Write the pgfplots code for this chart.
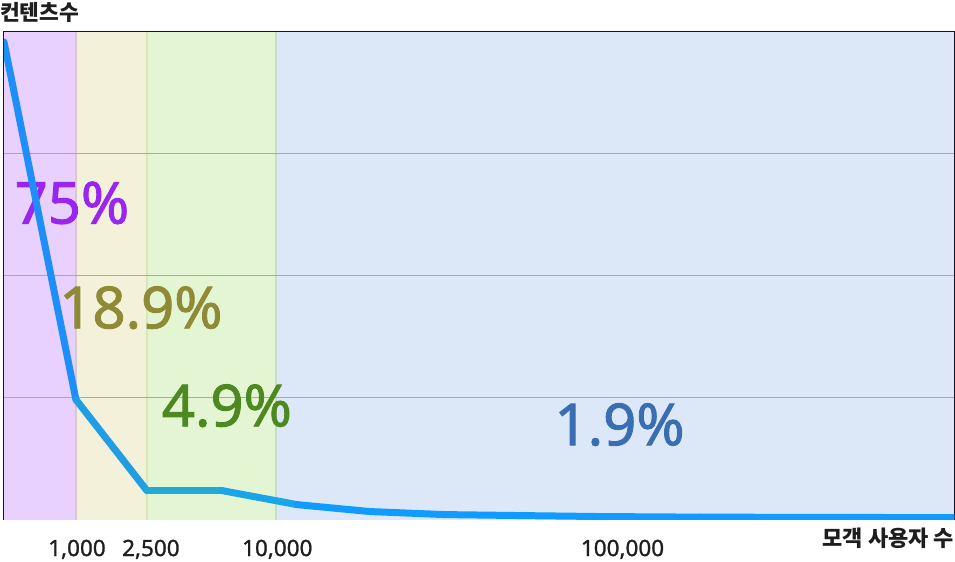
\documentclass[border=0pt]{standalone}
\usepackage{fontspec}
\setmainfont{Noto Sans}
\newfontfamily\med{Noto Sans}[FakeBold=1.5]
\newfontfamily\medt{Noto Sans}[FakeBold=1.2]
\newfontfamily\kr{Noto Sans CJK KR}
\usepackage{pgfplots}
\pgfplotsset{compat=1.18}
\definecolor{bandP}{HTML}{E8D0FF}
\definecolor{bandY}{HTML}{F3F1DA}
\definecolor{bandG}{HTML}{E4F5D4}
\definecolor{bandB}{HTML}{DCE8F8}
\definecolor{edgeP}{HTML}{DCC8CC}
\definecolor{edgeY}{HTML}{D6E8B4}
\definecolor{edgeG}{HTML}{C6E0C8}
\definecolor{axdark}{HTML}{16122A}
\definecolor{gridc}{HTML}{A8A8A8}
\definecolor{txtP}{HTML}{9A24F0}
\definecolor{txtY}{HTML}{8E8A35}
\definecolor{txtG}{HTML}{4E8820}
\definecolor{txtB}{HTML}{3A6EB2}
\definecolor{labc}{HTML}{1E1E1E}
\begin{document}
\begin{tikzpicture}
\begin{axis}[
  scale only axis, width=951pt, height=488pt,
  xmin=0, xmax=951, ymin=0, ymax=4,
  clip mode=individual,
  axis line style={draw=axdark, line width=1.5pt},
  xtick={73,147,273.5,619},
  xticklabels={{1,000},{2,500},{10,000},{100,000}},
  ytick={1,2,3}, yticklabels={},
  ymajorgrids, grid style={draw=gridc, line width=0.9pt},
  major tick length=0,
  xticklabel style={anchor=base, yshift=-36.5pt, font=\medt\fontsize{22.5}{24}\selectfont, text=labc},
  /pgf/number format/assume math mode=true,
  colormap={linecm}{rgb255(0)=(30,136,255); rgb255(72)=(30,148,242); rgb255(143)=(32,168,214); rgb255(218)=(32,172,212); rgb255(300)=(16,156,255); rgb255(951)=(16,156,255)},
  axis on top=false,
]
% bands
\addplot[fill=bandP, draw=none] coordinates {(0,0) (72,0) (72,4) (0,4)} -- cycle;
\addplot[fill=bandY, draw=none] coordinates {(72,0) (143,0) (143,4) (72,4)} -- cycle;
\addplot[fill=bandG, draw=none] coordinates {(143,0) (272,0) (272,4) (143,4)} -- cycle;
\addplot[fill=bandB, draw=none] coordinates {(272,0) (951,0) (951,4) (272,4)} -- cycle;
\addplot[draw=edgeP, line width=2pt] coordinates {(72,0) (72,4)};
\addplot[draw=edgeY, line width=2pt] coordinates {(143,0) (143,4)};
\addplot[draw=edgeG, line width=2pt] coordinates {(272,0) (272,4)};
% grid lines redrawn over bands
\addplot[draw=gridc, line width=0.9pt] coordinates {(0,1) (951,1)};
\addplot[draw=gridc, line width=0.9pt] coordinates {(0,2) (951,2)};
\addplot[draw=gridc, line width=0.9pt] coordinates {(0,3) (951,3)};
% percentage labels
\node[font=\med\fontsize{58}{60}\selectfont, text=txtP] at (axis cs:68,2.598) {75\%};
\node[font=\med\fontsize{58}{60}\selectfont, text=txtY] at (axis cs:137,1.738) {18.9\%};
\node[font=\med\fontsize{58}{60}\selectfont, text=txtG] at (axis cs:223,0.934) {4.9\%};
\node[font=\med\fontsize{58}{60}\selectfont, text=txtB] at (axis cs:616,0.779) {1.9\%};
% data line
\addplot[mesh, point meta=x, line width=7pt, line cap=round, line join=round] coordinates {
  (0,3.918) (72,0.984) (143,0.238) (218,0.238) (293,0.123) (366,0.066)
  (441,0.041) (516,0.033) (596,0.025) (696,0.020) (951,0.016)
};
% titles
\node[anchor=base west, inner sep=0pt, font=\kr\bfseries\fontsize{21.5}{23}\selectfont, text=labc] at (rel axis cs:0,1) [xshift=-4pt, yshift=11pt] {컨텐츠수};
\node[anchor=base east, inner sep=0pt, font=\kr\bfseries\fontsize{22}{24}\selectfont, text=labc] at (rel axis cs:1,0) [yshift=-27pt] {모객 사용자 수};
\path (rel axis cs:0,0) ++(-4pt,-42pt) coordinate (bbSW);
\path (rel axis cs:1,1) ++(0.75pt,32pt) coordinate (bbNE);
\end{axis}
\pgfresetboundingbox
\path (bbSW) rectangle (bbNE);
\end{tikzpicture}
\end{document}
